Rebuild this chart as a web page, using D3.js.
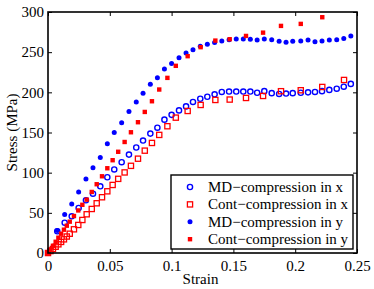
<!DOCTYPE html>
<html>
<head>
<meta charset="utf-8">
<script src="https://cdn.jsdelivr.net/npm/d3@7"></script>
<style>
  body { margin: 0; background: #fff; }
</style>
</head>
<body>
<div id="chart"></div>
<script>
// strain samples for the MD runs (both directions share them)
const mdStrain = [0.0075, 0.0135, 0.0192, 0.0248, 0.0307, 0.0364, 0.0423, 0.048, 0.0536, 0.0596,
  0.0655, 0.0714, 0.0769, 0.0828, 0.0885, 0.0942, 0.1, 0.106, 0.1117, 0.1173,
  0.1232, 0.1289, 0.1348, 0.1406, 0.1465, 0.1523, 0.158, 0.1637, 0.1692, 0.175,
  0.181, 0.187, 0.1926, 0.198, 0.2045, 0.2104, 0.216, 0.2217, 0.2276, 0.2336,
  0.2393, 0.245];
const mdX = [27, 37.7, 45.7, 56, 65.6, 73.8, 83, 94.3, 104, 113,
  122.5, 131.3, 140, 148.6, 156, 166, 172, 177.5, 182.5, 188,
  192, 194.5, 197.5, 200.5, 201, 201, 201, 201, 199.5, 201.5,
  199, 198, 198.5, 199, 199.5, 200, 200.5, 201.5, 203, 204.5,
  207, 210.5];
const mdY = [28, 48, 61, 76, 92, 106, 119, 136, 150, 162,
  176, 188, 199, 210, 218, 229, 236, 243, 249, 253,
  257.5, 260, 262, 264, 265.5, 266.5, 266.5, 266, 265, 266.5,
  265.5, 263.5, 262.5, 263.5, 264, 265, 263, 264, 265, 265.5,
  267, 270];

// continuum model samples
const contStrain = [0, 0.002, 0.004, 0.0062, 0.0084, 0.0106, 0.0129, 0.0152, 0.0176, 0.021,
  0.0245, 0.0278, 0.0313, 0.0354, 0.0394, 0.0437, 0.048, 0.0523, 0.0568, 0.062,
  0.0671, 0.0728, 0.0783, 0.0841, 0.09, 0.0966, 0.1034, 0.113, 0.1235, 0.1354,
  0.147, 0.1602, 0.174, 0.1885, 0.2045, 0.2219, 0.2395];
const contX = [0, 2.4, 5, 7.8, 10.8, 13.8, 17, 20.5, 24, 29.5,
  34.9, 41.1, 48.2, 54.8, 61.9, 69.4, 76.8, 84.7, 92.3, 100.3,
  108.5, 117.4, 127.4, 137, 147, 157.8, 168.5, 176.8, 184.3, 190.5,
  191, 193, 195.5, 201.4, 202.6, 206.7, 215.4];
const contY = [0, 4.5, 9, 14, 19, 24, 29, 34, 39, 46,
  53, 60, 66.4, 76, 85.6, 95.5, 105.5, 115.5, 126, 138.2,
  150.3, 162.8, 175.6, 188.9, 203.5, 218, 233, 245, 256.2, 264.4,
  266.1, 270.2, 274.3, 282.7, 285.2, 293.5];

const xTicks = [0, 0.05, 0.1, 0.15, 0.2, 0.25];
const yTicks = [0, 50, 100, 150, 200, 250, 300];
const seriesNames = ["MD\u2212compression in x", "Cont\u2212compression in x",
  "MD\u2212compression in y", "Cont\u2212compression in y"];

const W = 374, H = 289;
const margin = {top: 12, right: 17, bottom: 36, left: 48},
    width = W - margin.left - margin.right,
    height = H - margin.top - margin.bottom;

const svg = d3.select("#chart")
  .append("svg")
    .attr("width", W)
    .attr("height", H)
  .append("g")
    .attr("transform", `translate(${margin.left},${margin.top})`);

const x = d3.scaleLinear().domain([0, 0.25]).range([0, width]);
const y = d3.scaleLinear().domain([0, 300]).range([height, 0]);

const fmt = d => d === 0 ? "0" : String(d);

// axes with inward ticks on all four sides
svg.append("g")
    .attr("transform", `translate(0,${height})`)
    .call(d3.axisBottom(x).tickValues(xTicks).tickFormat(fmt).tickSize(-4).tickPadding(7));
svg.append("g")
    .call(d3.axisTop(x).tickValues(xTicks).tickFormat("").tickSize(-4));
svg.append("g")
    .call(d3.axisLeft(y).tickValues(yTicks).tickFormat(fmt).tickSize(-4).tickPadding(4));
svg.append("g")
    .attr("transform", `translate(${width},0)`)
    .call(d3.axisRight(y).tickValues(yTicks).tickFormat("").tickSize(-4));

svg.selectAll(".domain").remove();
svg.selectAll(".tick line").attr("stroke", "#000").attr("stroke-width", 1);

const pts = (xs, ys) => ys.map((v, i) => ({s: xs[i], v: v}));
const marks = svg.append("g");

// MD x : open blue circles
marks.append("g").selectAll("circle")
  .data(pts(mdStrain, mdX))
  .join("circle")
    .attr("cx", d => x(d.s)).attr("cy", d => y(d.v)).attr("r", 2.6)
    .attr("fill", "none").attr("stroke", "#0000ff").attr("stroke-width", 1.4);

// Cont x : open red squares
marks.append("g").selectAll("rect")
  .data(pts(contStrain, contX))
  .join("rect")
    .attr("x", d => x(d.s) - 2.6).attr("y", d => y(d.v) - 2.6)
    .attr("width", 5.2).attr("height", 5.2)
    .attr("fill", "none").attr("stroke", "#ff0000").attr("stroke-width", 1.3);

// MD y : filled blue dots
marks.append("g").selectAll("circle")
  .data(pts(mdStrain, mdY))
  .join("circle")
    .attr("cx", d => x(d.s)).attr("cy", d => y(d.v)).attr("r", 2.5)
    .attr("fill", "#0000ff");

// Cont y : filled red squares
marks.append("g").selectAll("rect")
  .data(pts(contStrain, contY))
  .join("rect")
    .attr("x", d => x(d.s) - 2.2).attr("y", d => y(d.v) - 2.2)
    .attr("width", 4.4).attr("height", 4.4)
    .attr("fill", "#ff0000");

// box
svg.append("rect")
    .attr("width", width).attr("height", height)
    .attr("fill", "none").attr("stroke", "#000").attr("stroke-width", 1.6);

// labels
svg.append("text")
    .attr("x", width / 2 - 2).attr("y", height + 31)
    .attr("text-anchor", "middle")
    .text("Strain");
svg.append("text")
    .attr("transform", `translate(${-31},${height / 2}) rotate(-90)`)
    .attr("text-anchor", "middle")
    .text("Stress (MPa)");

// legend
const lg = svg.append("g").attr("transform", `translate(${123},${163})`);
lg.append("rect")
    .attr("width", 182).attr("height", 74)
    .attr("fill", "#fff").attr("stroke", "#000").attr("stroke-width", 1.4);
const rowY = i => 12 + i * 17.4;
seriesNames.forEach((name, i) => {
  const row = lg.append("g").attr("transform", `translate(19,${rowY(i)})`);
  if (i === 0) row.append("circle").attr("r", 2.6).attr("fill", "none").attr("stroke", "#0000ff").attr("stroke-width", 1.4);
  if (i === 1) row.append("rect").attr("x", -2.6).attr("y", -2.6).attr("width", 5.2).attr("height", 5.2).attr("fill", "none").attr("stroke", "#ff0000").attr("stroke-width", 1.3);
  if (i === 2) row.append("circle").attr("r", 2.5).attr("fill", "#0000ff");
  if (i === 3) row.append("rect").attr("x", -2.2).attr("y", -2.2).attr("width", 4.4).attr("height", 4.4).attr("fill", "#ff0000");
  row.append("text")
      .attr("x", 18).attr("dy", "0.33em")
      .text(name);
});

// every text in Times-like serif
svg.selectAll("text")
    .style("font-family", "'Liberation Serif', 'Times New Roman', serif")
    .style("font-size", "15px")
    .attr("fill", "#000");
</script>
</body>
</html>
